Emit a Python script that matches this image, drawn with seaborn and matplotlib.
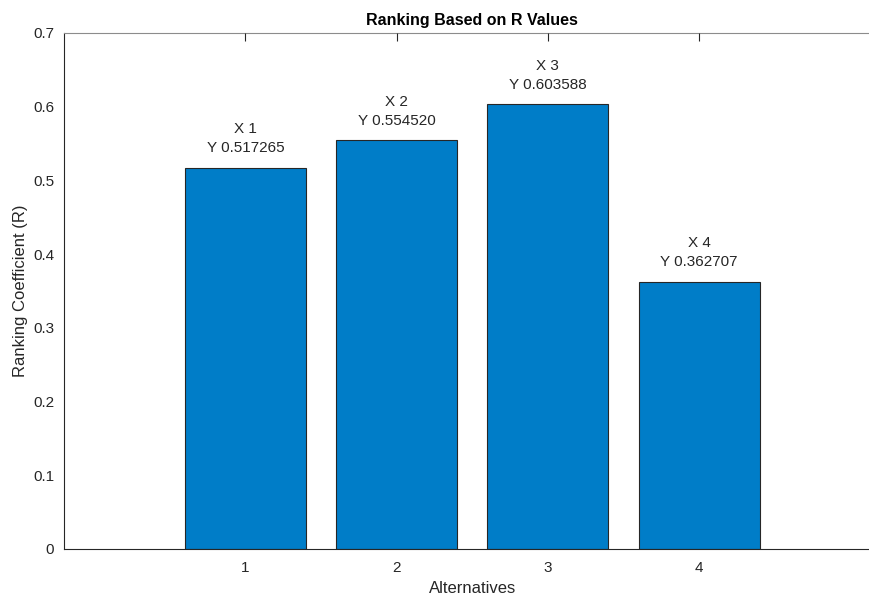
import pandas as pd
import matplotlib
matplotlib.use('Agg')
import matplotlib.pyplot as plt
import seaborn as sns

# dados
alternativas = [1, 2, 3, 4]
valores_r = [0.517265, 0.554520, 0.603588, 0.362707]
y_ticks = [0, 0.1, 0.2, 0.3, 0.4, 0.5, 0.6, 0.7]
y_tick_labels = ['0', '0.1', '0.2', '0.3', '0.4', '0.5', '0.6', '0.7']

df = pd.DataFrame({'Alternativa': alternativas, 'R': valores_r})

sns.set_style('white')
plt.rcParams['font.family'] = ['Liberation Sans', 'DejaVu Sans']

fig = plt.figure(figsize=(8.7, 5.98), dpi=100)
ax = fig.add_axes([64 / 870, 1 - 549 / 598, (880.6 - 64) / 870, (549 - 33) / 598])

sns.barplot(data=df, x='Alternativa', y='R', native_scale=True, width=0.8,
            color='#007DC8', saturation=1, edgecolor='#262626', linewidth=0.8, ax=ax)
# ticks por cima das barras
ax.set_axisbelow(False)
ax.xaxis.set_zorder(10)
ax.yaxis.set_zorder(10)
for sp in ax.spines.values():
    sp.set_zorder(10)

# rótulos de dados (estilo datatip)
for x, y in zip(alternativas, valores_r):
    ax.annotate(f'X {x}\nY {y:.6f}', xy=(x, y), xytext=(0, 9), textcoords='offset points',
                ha='center', va='bottom', fontsize=11, color='#262626', linespacing=1.45)

ax.set_xlim(-0.2, 5.2)
ax.set_ylim(0, 0.7)
ax.set_xticks(alternativas)
ax.set_xticklabels([str(a) for a in alternativas])
ax.set_yticks(y_ticks)
ax.set_yticklabels(y_tick_labels)

ax.tick_params(direction='in', length=6, width=0.8, colors='#262626', labelsize=11,
               top=True, right=True)
ax.tick_params(axis='x', pad=9)
ax.tick_params(axis='y', pad=7)
for side in ['left', 'bottom']:
    ax.spines[side].set_color('#262626')
    ax.spines[side].set_linewidth(0.8)
for side in ['top', 'right']:
    ax.spines[side].set_color('#8c8c8c')
    ax.spines[side].set_linewidth(0.8)

ax.set_title('Ranking Based on R Values', fontsize=11.5, fontweight='bold', color='black', pad=6)
ax.set_xlabel('Alternatives', fontsize=12, color='#262626', labelpad=4)
ax.set_ylabel('Ranking Coefficient (R)', fontsize=12, color='#262626', labelpad=4)

fig.savefig('out.png', dpi=100)
